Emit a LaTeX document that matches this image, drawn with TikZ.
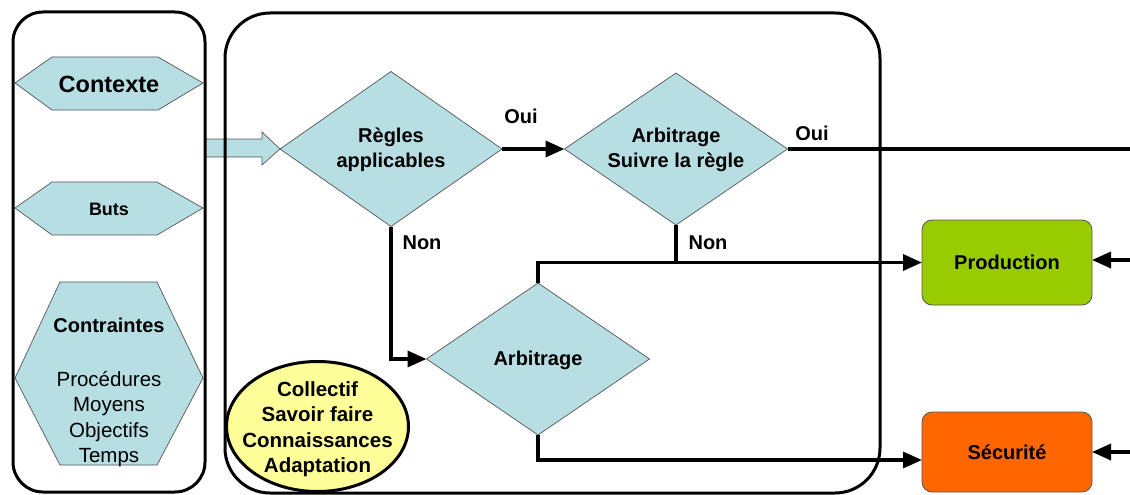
\documentclass[tikz,border=0pt]{standalone}
\usepackage{fontspec}
\setmainfont{Liberation Sans}
\usetikzlibrary{shapes.geometric,arrows.meta}
\definecolor{lblue}{HTML}{B7DEE3}
\definecolor{dgray}{HTML}{555555}
\definecolor{prodgreen}{HTML}{99CC00}
\definecolor{secorange}{HTML}{FF6600}
\definecolor{lyellow}{HTML}{FFFF99}
\begin{document}
\begin{tikzpicture}[x=1pt,y=-1pt,
  panel/.style={draw=black,line width=3pt},
  hexa/.style={fill=lblue,draw=dgray,line width=0.7pt},
  dia/.style={diamond,draw=dgray,fill=lblue,line width=0.7pt,inner sep=0pt,outer sep=0pt},
  txt/.style={font=\bfseries\fontsize{20}{25}\selectfont,align=center,inner sep=0pt},
  rtxt/.style={font=\fontsize{20.5}{25.3}\selectfont,align=center,inner sep=0pt},
  lbl/.style={font=\bfseries\fontsize{20}{24}\selectfont,inner sep=0pt},
  conn/.style={line width=3.4pt,-{Triangle[length=19pt,width=16pt]}},
  plain/.style={line width=3.4pt},
  outbox/.style={draw=dgray,line width=0.8pt,rounded corners=10pt,minimum width=170pt,inner sep=0pt,outer sep=0pt},
  blockarrow/.style={fill=lblue,draw=dgray,line width=0.7pt}
]
\useasboundingbox (0,0) rectangle (1130,495);

% diamonds
\node[dia,minimum width=222pt,minimum height=155pt] (d1) at (391,149) {};
\node[dia,minimum width=223pt,minimum height=152pt] (d2) at (676,149) {};
\node[dia,minimum width=223pt,minimum height=152pt] (d3) at (538,359) {};

% block arrow from the left panel
\draw[blockarrow] (205,139) -- (262,139) -- (262,132) -- (d1.west) -- (262,165) -- (262,157) -- (205,157) -- cycle;

% panels
\draw[panel,rounded corners=30pt] (13,12) rectangle (205,492);
\draw[panel,rounded corners=45pt] (225,13) rectangle (880,493);

% hexagons
\draw[hexa] (15,83) -- (52,57) -- (158,57) -- (203,83) -- (158,110) -- (52,110) -- cycle;
\node[font=\bfseries\fontsize{23.5}{28}\selectfont,inner sep=0pt] (ctx) at (109,84) {Contexte};
\draw[hexa] (15,208) -- (52,182) -- (157,182) -- (203,208) -- (157,235) -- (52,235) -- cycle;
\node[font=\bfseries\fontsize{18}{21}\selectfont,inner sep=0pt] (buts) at (109,209) {Buts};
\draw[hexa] (15,378) -- (60,282) -- (157,282) -- (203,378) -- (157,465) -- (60,465) -- cycle;
\node[txt] (ctr) at (109,325) {Contraintes};
\node[rtxt] (ctrl) at (109,419) {Procédures\\Moyens\\Objectifs\\Temps};

% diamond texts
\node[txt] (d1t) at (391,150) {Règles\\applicables};
\node[txt] (d2t) at (676,150) {Arbitrage\\Suivre la règle};
\node[txt] (d3t) at (538,360) {Arbitrage};

% outcome boxes
\node[outbox,fill=prodgreen,minimum height=85pt] (prod) at (1007,262.5) {};
\node[txt] (prodt) at (prod) {Production};
\node[outbox,fill=secorange,minimum height=80pt] (sec) at (1007,452) {};
\node[txt] (sect) at (sec) {Sécurité};

% right-side free ends
\coordinate (outR1) at (1130,149);
\coordinate (inR1) at (1130,260);
\coordinate (inR2) at (1130,452);

% connectors
\draw[conn] (d1.east) -- (d2.west);
\draw[plain] (d2.east) -- (d2.east -| outR1);
\draw[plain] (d2.south) -- (d2.south |- prod.west);
\draw[conn] (d3.north) |- (prod.west);
\draw[conn] (d1.south) |- (d3.west);
\draw[conn] (d3.south) |- ([yshift=-8pt]sec.west);
\draw[conn] (inR1) -- (inR1 -| prod.east);
\draw[conn] (inR2) -- (sec.east);

% labels
\node[lbl] (oui1) at (521,116) {Oui};
\node[lbl] (oui2) at (812,133) {Oui};
\node[lbl] (non1) at (422,243) {Non};
\node[lbl] (non2) at (708,243) {Non};

% ellipse
\node[ellipse,draw=black,line width=3pt,fill=lyellow,minimum width=182pt,minimum height=130pt,inner sep=0pt] (ell) at (317.5,426.5) {};
\node[txt,font=\bfseries\fontsize{20.5}{25.5}\selectfont] (ellt) at (317.5,429) {Collectif\\Savoir faire\\Connaissances\\Adaptation};
\end{tikzpicture}
\end{document}
